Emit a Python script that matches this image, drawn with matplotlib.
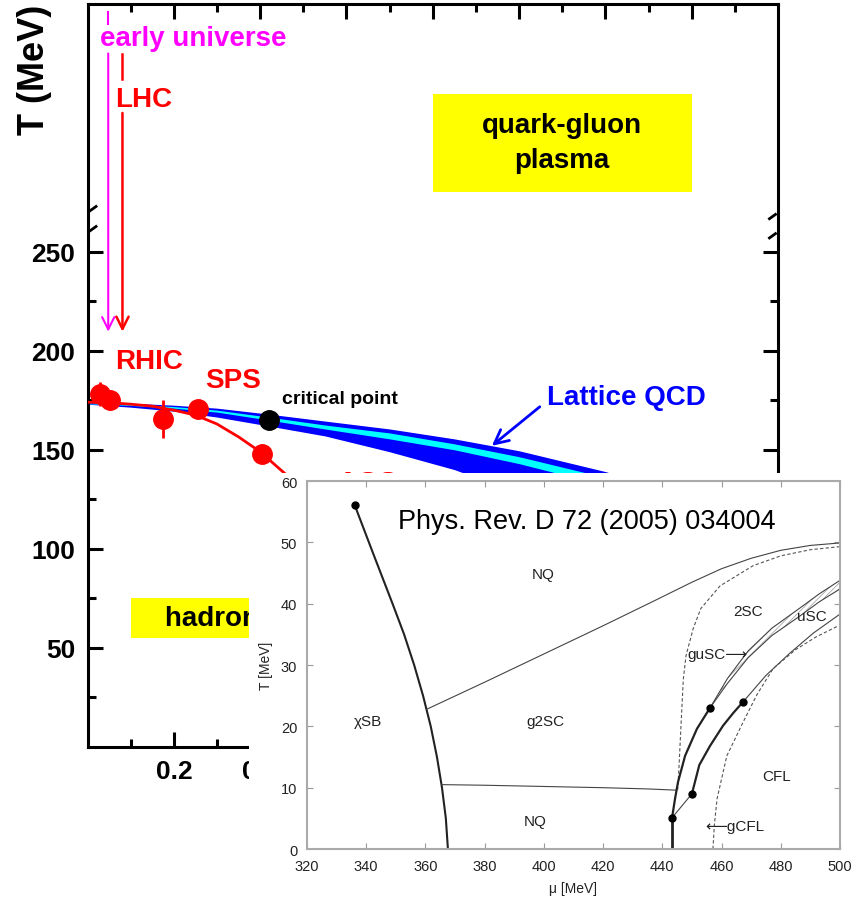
import numpy as np
import matplotlib
matplotlib.use('Agg')
import matplotlib.pyplot as plt
from matplotlib.patches import Rectangle

plt.rcParams['font.family'] = ['Liberation Sans', 'DejaVu Sans']
plt.rcParams['hatch.linewidth'] = 0.5

# --- main diagram: freeze-out points and curve
fo_x = [0.030, 0.051, 0.176, 0.255, 0.405]
fo_T = [178, 175, 165.5, 170.5, 148]
fo_err = [6, 5, 9.5, 3, 3]
curve_x = [0, 0.05, 0.1, 0.15, 0.2, 0.25, 0.3, 0.35, 0.4, 0.46]
curve_T = [174, 173.8, 173, 172, 170, 167.5, 163, 156.5, 149, 137.5]

# lattice QCD band
lat_x = [0, 0.1, 0.2, 0.3, 0.42, 0.55, 0.7, 0.85, 1.0, 1.2, 1.4]
lat_top = [174, 173.5, 172.5, 171, 168, 164.5, 160.5, 155.5, 149.5, 139, 126]
lat_c1 = [173.6, 173, 171.8, 170, 166.5, 162.5, 158.5, 153, 146.5, 136, 122]
lat_c2 = [173.2, 172.4, 171, 169, 165, 160.5, 155.5, 150, 143, 132, 117]
lat_bot = [173, 171.5, 169.5, 166.5, 162, 157, 149, 140, 128, 112, 95]
crit_x, crit_T = 0.42, 165

# --- inset (Phys. Rev. D 72 (2005) 034004)
chi_mu = [336.1, 342.5, 348.9, 352.8, 356.2, 359.2, 361.8, 363.9, 365.6, 366.9, 367.6]
chi_T = [56.1, 48, 40, 35, 30, 25, 20, 15, 10, 5, 0]
nq_mu = [360.5, 380, 400, 420, 437, 450, 460, 470, 480, 490, 500]
nq_T = [22.8, 27.2, 31.8, 36.4, 40.4, 43.5, 45.7, 47.4, 48.7, 49.5, 49.9]
h_mu = [365.5, 380, 400, 420, 435, 444.5]
h_T = [10.5, 10.4, 10.2, 10.0, 9.8, 9.6]
d2_mu = [500, 490, 480, 470.7, 459.5, 453, 450.4, 448, 447.1, 446.3, 445.6, 445.2]
d2_T = [49.3, 48.8, 47.8, 46.2, 42.9, 39.2, 35.9, 31.5, 27.7, 20, 13, 9.7]
v_mu = [443.3, 443.3]
v_T = [0, 5.1]
a_mu = [443.3, 444.3, 445.3, 447.7, 451.7, 456.1]
a_T = [5.1, 8.2, 10.9, 15.2, 19.6, 23]
link_mu = [443.3, 450.0]
link_T = [5.1, 9.0]
b_mu = [450.0, 452.5, 456.1, 460.5, 464, 467.3]
b_T = [9.0, 13.7, 16.8, 20.1, 22.2, 24]
c_mu = [467.3, 475, 483, 491, 500]
c_T = [24, 28.3, 31.9, 35.2, 38.3]
g_mu = [456.1, 462, 469, 477, 486.5, 493, 500]
g_up = [23, 27.8, 32.3, 36.0, 39.3, 41.6, 43.8]
g_lo = [23, 27.0, 31.2, 34.8, 38.0, 40.3, 42.4]
gc_mu = [457.1, 457.6, 458.5, 461.8, 467.3, 472, 477.4, 485, 492, 499.5]
gc_T = [0, 4, 8.2, 15.2, 20.7, 25.2, 29.4, 32.5, 34.6, 36.4]
dots_mu = [336.1, 443.3, 450.0, 456.1, 467.3]
dots_T = [56.1, 5.1, 9.0, 23, 24]

fig = plt.figure(figsize=(8.63, 9.04), dpi=100)
ax = fig.add_axes([0.1014, 0.1726, 0.8001, 0.8219])
ax.set_xlim(0, 1.6)
ax.set_ylim(0, 375)

ax.fill_between(lat_x, lat_bot, lat_top, color='#0000ff', lw=0, zorder=2)
ax.fill_between(lat_x, lat_c2, lat_c1, color='#00ffff', lw=0, zorder=2)
ax.plot(curve_x, curve_T, color='#ff0000', lw=2, zorder=3)
ax.errorbar(fo_x, fo_T, yerr=fo_err, fmt='o', color='#ff0000', ms=14, elinewidth=2, capsize=0, zorder=4)
ax.plot([crit_x], [crit_T], 'o', color='black', ms=14, zorder=5)

# arrows from the top
ax.plot([0.048, 0.048], [371, 365], color='#ff00ff', lw=1.5)
ax.annotate('', xy=(0.048, 209.6), xytext=(0.048, 350),
            arrowprops=dict(arrowstyle='->', color='#ff00ff', lw=1.5, mutation_scale=22, shrinkA=0, shrinkB=0))
ax.plot([0.081, 0.081], [350, 337], color='#ff0000', lw=1.8)
ax.annotate('', xy=(0.081, 209.6), xytext=(0.081, 320),
            arrowprops=dict(arrowstyle='->', color='#ff0000', lw=1.8, mutation_scale=22, shrinkA=0, shrinkB=0))

bold = dict(fontweight='bold')
ax.text(0.029, 357.6, 'early universe', color='#ff00ff', fontsize=20, va='center', **bold)
ax.text(0.064, 327, 'LHC', color='#ff0000', fontsize=20, va='center', **bold)
ax.text(0.064, 195, 'RHIC', color='#ff0000', fontsize=20, va='center', **bold)
ax.text(0.272, 185.4, 'SPS', color='#ff0000', fontsize=20, va='center', **bold)
ax.text(0.58, 133, 'AGS', color='#ff0000', fontsize=20, va='center', **bold)
ax.text(0.451, 175.8, 'critical point', color='black', fontsize=14, va='center', **bold)
ax.text(1.065, 176.8, 'Lattice QCD', color='#0000ff', fontsize=20, va='center', **bold)
ax.annotate('', xy=(0.937, 152), xytext=(1.048, 171.7),
            arrowprops=dict(arrowstyle='->', color='#0000ff', lw=2, mutation_scale=25, shrinkA=0, shrinkB=0))

ax.add_patch(Rectangle((0.8, 280.3), 0.601, 49.5, color='#ffff00', lw=0, zorder=1))
ax.text(1.10, 305, 'quark-gluon\nplasma', ha='center', va='center', fontsize=20, linespacing=1.45, **bold)
ax.add_patch(Rectangle((0.101, 55), 0.6, 20.3, color='#ffff00', lw=0, zorder=1))
had = ax.text(0.18, 65, 'hadron gas', ha='left', va='center', fontsize=20, **bold)
had.set_clip_path(Rectangle((0, 0), 249 / 863, 1, transform=fig.transFigure))

ax.set_yticks([50, 100, 150, 200, 250])
ax.set_yticks([25, 75, 125, 175, 225], minor=True)
ax.set_xticks([0.2, 0.4, 0.6, 0.8, 1.0, 1.2, 1.4])
ax.set_xticks([0.1, 0.3, 0.5, 0.7, 0.9, 1.1, 1.3, 1.5], minor=True)
ax.set_xticklabels(['0.2', '0.4', '0.6', '0.8', '1.0', '1.2', '1.4'])
ax.tick_params(which='both', direction='in', top=True, right=True, width=2.2)
ax.tick_params(which='major', length=11, labelsize=19, pad=9)
ax.tick_params(which='minor', length=6)
for lab in ax.get_xticklabels() + ax.get_yticklabels():
    lab.set_fontweight('bold')
for s in ax.spines.values():
    s.set_linewidth(2.2)

# axis break marks
yt = ax.get_yaxis_transform()
for T in [271.7, 261.6]:
    ax.plot([0.002, 0.014], [T - 1.5, T + 1.5], color='black', lw=2, transform=yt,
            clip_on=False, solid_capstyle='butt')
for T in [267.7, 258]:
    ax.plot([0.986, 0.998], [T - 1.5, T + 1.5], color='black', lw=2, transform=yt,
            clip_on=False, solid_capstyle='butt')

fig.text(35 / 863, 1 - 70 / 904, 'T (MeV)', rotation=90, ha='center', va='center', fontsize=26, **bold)

# white background of the pasted inset
fig.patches.append(Rectangle((0.2885, 0), 0.7115, 0.4757, transform=fig.transFigure,
                             facecolor='white', edgecolor='none', zorder=1))

# --- inset
ins = fig.add_axes([0.3557, 0.0597, 0.6176, 0.4071])
ins.set_zorder(2)
ins.set_xlim(320, 500)
ins.set_ylim(0, 60)
ink = '#222222'
ins.plot(chi_mu, chi_T, color=ink, lw=1.5)
ins.plot(nq_mu, nq_T, color='#444444', lw=0.8)
ins.plot(h_mu, h_T, color='#444444', lw=0.8)
ins.plot(d2_mu, d2_T, color='#555555', lw=0.8, ls=(0, (3, 2)))
ins.plot(v_mu, v_T, color=ink, lw=2)
ins.plot(a_mu, a_T, color=ink, lw=1.6)
ins.plot(link_mu, link_T, color='#444444', lw=0.8)
ins.plot(b_mu, b_T, color=ink, lw=1.6)
ins.plot(c_mu, c_T, color='#444444', lw=0.8)
ins.plot(g_mu, g_up, color='#444444', lw=0.8)
ins.plot(g_mu, g_lo, color='#444444', lw=0.8)
ins.fill_between(g_mu, g_lo, g_up, facecolor='none', edgecolor='#999999', hatch='//////', lw=0)
ins.plot(gc_mu, gc_T, color='#555555', lw=0.8, ls=(0, (3, 2)))
ins.plot(dots_mu, dots_T, 'o', color='black', ms=5)

lab = dict(fontsize=11, ha='center', va='center', color=ink)
ins.text(399.7, 44.8, 'NQ', **lab)
ins.text(340.6, 20.9, 'χSB', **lab)
ins.text(400.4, 20.9, 'g2SC', **lab)
ins.text(397, 4.6, 'NQ', **lab)
ins.text(469, 38.8, '2SC', **lab)
ins.text(490.6, 38, 'uSC', **lab)
ins.text(458.5, 31.8, 'guSC⟶', **lab)
ins.text(478.7, 11.9, 'CFL', **lab)
ins.text(464.5, 3.8, '⟵gCFL', **lab)
ins.text(0.525, 0.892, 'Phys. Rev. D 72 (2005) 034004', transform=ins.transAxes,
         fontsize=19.5, ha='center', va='center', color='black')

ins.set_xticks(np.arange(320, 501, 20))
ins.set_yticks(np.arange(0, 61, 10))
ins.tick_params(direction='in', top=True, right=True, length=4, width=0.8,
                color='#999999', labelsize=10.5, labelcolor=ink, pad=7)
for s in ins.spines.values():
    s.set_color('#aaaaaa')
    s.set_linewidth(1.5)
ins.set_xlabel('μ [MeV]', fontsize=10, color=ink, labelpad=6)
ins.set_ylabel('T [MeV]', fontsize=10, color=ink, labelpad=6)

fig.savefig('out.png', dpi=100)
